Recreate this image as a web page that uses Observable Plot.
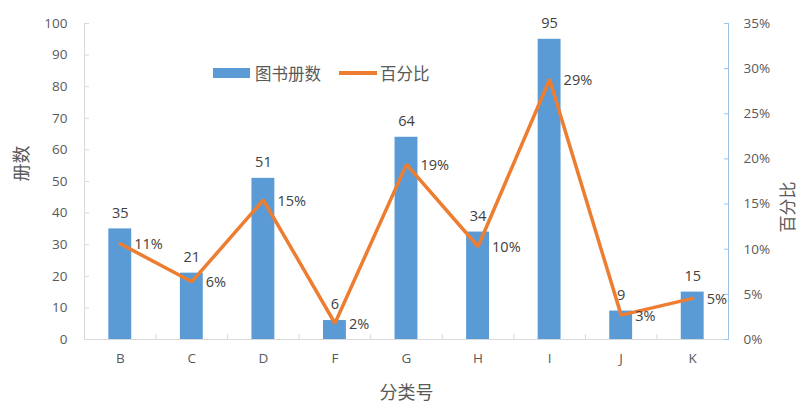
<!DOCTYPE html>
<html><head><meta charset="utf-8">
<script src="https://cdn.jsdelivr.net/npm/d3@7"></script>
<script src="https://cdn.jsdelivr.net/npm/@observablehq/plot@0.6"></script>
<style>
body{margin:0;background:#fff;}
#wrap{position:relative;width:799px;height:408px;overflow:hidden;}
.legend{position:absolute;top:61px;left:213px;font:16.5px "Open Sans","Noto Sans CJK SC",sans-serif;color:#595959;display:flex;align-items:center;}
.sw{display:inline-block;}
</style></head><body><div id="wrap"></div>
<script>
const categories = ["B","C","D","F","G","H","I","J","K"];
const counts = [35,21,51,6,64,34,95,9,15];
const percents = [10.6,6.4,15.45,1.8,19.4,10.3,28.8,2.7,4.55];
const leftTicks = [0,10,20,30,40,50,60,70,80,90,100];
const rightTicks = [0,5,10,15,20,25,30,35];
const seriesNames = ["图书册数","百分比"];
const xTitle = "分类号";
const yTitleLeft = "册数";
const yTitleRight = "百分比";
const leftMax = 100, rightMax = 35;

const blue = "#5B9BD5", orange = "#ED7D31", txt = "#595959", lbl = "#404040";
const FONT = '"Open Sans","Noto Sans CJK SC",sans-serif';
const toLeft = v => v / rightMax * leftMax;
const data = categories.map((c, i) => ({cat: c, count: counts[i], pct: percents[i], py: toLeft(percents[i])}));

const W = 799, H = 408, ml = 84, mr = 71, mt = 23, mb = 69;
const half = (W - ml - mr) / categories.length / 2;

const chart = Plot.plot({
  width: W, height: H, marginLeft: ml, marginRight: mr, marginTop: mt, marginBottom: mb,
  style: {fontFamily: FONT, fontSize: "13px", color: txt, background: "#fff", overflow: "visible"},
  x: {type: "band", domain: categories, paddingInner: 0.68, paddingOuter: 0.34, round: false, label: null},
  y: {domain: [0, leftMax], label: null},
  marks: [
    // axis lines
    Plot.ruleY([0], {stroke: "#D9D9D9", strokeWidth: 1}),
    Plot.ruleX([categories[0]], {dx: -half, stroke: "#D9D9D9", y1: 0, y2: leftMax}),
    Plot.ruleX([categories[categories.length - 1]], {dx: half, stroke: "#9DC3E6", y1: 0, y2: leftMax}),
    // left axis
    Plot.axisY({anchor: "left", ticks: leftTicks, tickSize: 0, tickPadding: 17, fill: txt, fontSize: 13.5, label: null}),
    Plot.axisY({anchor: "left", ticks: leftTicks, tickSize: -5, tickFormat: () => "", stroke: "#D9D9D9", label: null}),
    // right axis
    Plot.axisY({anchor: "right", ticks: rightTicks.map(toLeft), tickSize: 0, tickPadding: 15, fill: txt, fontSize: 13.5,
      tickFormat: d => Math.round(d * rightMax / leftMax) + "%", label: null}),
    Plot.axisY({anchor: "right", ticks: rightTicks.map(toLeft), tickSize: -5, tickFormat: () => "", stroke: "#9DC3E6", label: null}),
    // bottom axis
    Plot.axisX({tickSize: 0, tickPadding: 14, fill: txt, fontSize: 13.5, label: null}),
    Plot.axisX({ticks: categories.slice(0, -1), tickSize: -5, dx: half, tickFormat: () => "", stroke: "#D9D9D9", label: null}),
    // bars
    Plot.barY(data, {x: "cat", y: "count", fill: blue}),
    Plot.text(data, {x: "cat", y: "count", text: d => String(d.count), dy: -16, fill: lbl, fontSize: 14.5}),
    // line
    Plot.line(data, {x: "cat", y: "py", stroke: orange, strokeWidth: 3.5, strokeLinejoin: "miter"}),
    Plot.text(data, {x: "cat", y: "py", text: d => Math.round(d.pct) + "%", dx: 14, dy: 1, textAnchor: "start", fill: lbl, fontSize: 14.5}),
    // titles
    Plot.text([yTitleLeft], {frameAnchor: "left", dx: -62, rotate: -90, fill: txt, fontSize: 18}),
    Plot.text([yTitleRight], {frameAnchor: "right", dx: 60, rotate: -90, fill: txt, fontSize: 17}),
    Plot.text([xTitle], {frameAnchor: "bottom", dy: 59, fill: txt, fontSize: 18})
  ]
});

const wrap = document.getElementById("wrap");
wrap.appendChild(chart);
const legend = document.createElement("div");
legend.className = "legend";
legend.innerHTML =
  `<span class="sw" style="width:37px;height:10px;background:${blue};margin-right:5px"></span><span>${seriesNames[0]}</span>` +
  `<span class="sw" style="width:38px;height:4px;background:${orange};margin-left:18px;margin-right:3px"></span><span>${seriesNames[1]}</span>`;
wrap.appendChild(legend);
</script>
</body></html>
